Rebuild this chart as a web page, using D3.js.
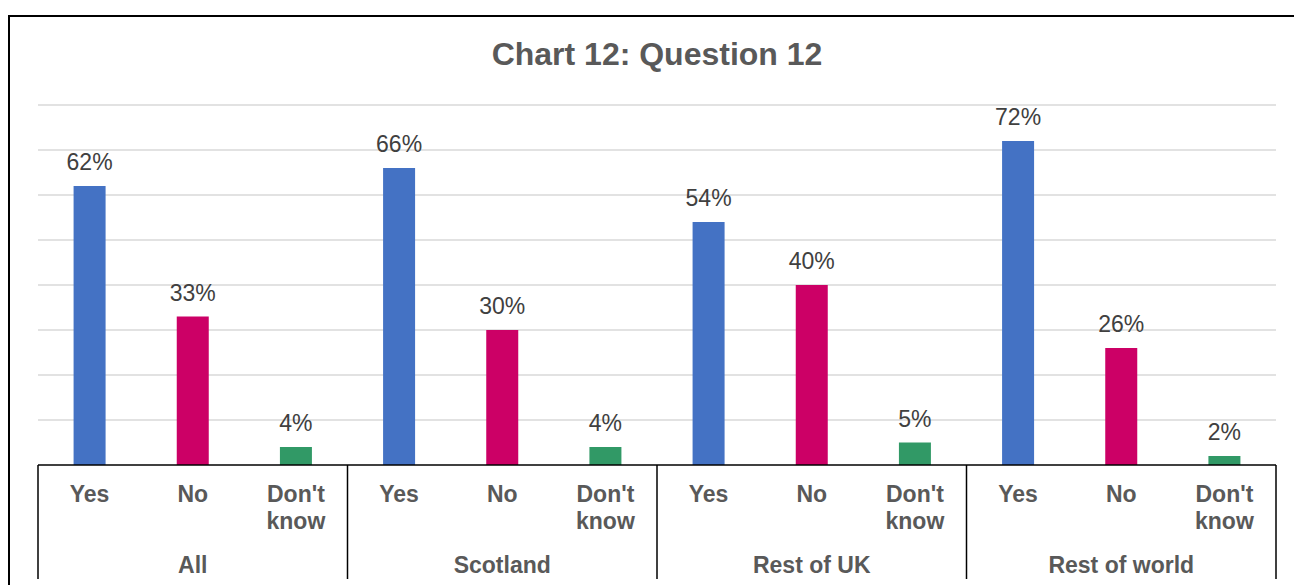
<!DOCTYPE html>
<html>
<head>
<meta charset="utf-8">
<script src="https://cdn.jsdelivr.net/npm/d3@7"></script>
<style>
html,body{margin:0;padding:0;background:#fff;}
svg{display:block;font-family:"Liberation Sans",Arial,sans-serif;}
</style>
</head>
<body>
<svg id="chart" width="1294" height="585"></svg>
<script>
const title = "Chart 12: Question 12";
const groups = ["All", "Scotland", "Rest of UK", "Rest of world"];
const answers = ["Yes", "No", "Don't know"];
const yesValues = [62, 66, 54, 72];
const noValues = [33, 30, 40, 26];
const dontKnowValues = [4, 4, 5, 2];
const yTicks = [0, 10, 20, 30, 40, 50, 60, 70, 80];
const colors = ["#4472C4", "#CC0066", "#319966"];

(function () {
const seriesValues = [yesValues, noValues, dontKnowValues];
const data = [];
groups.forEach((g, gi) => answers.forEach((a, ai) => {
  data.push({group: g, answer: a, value: seriesValues[ai][gi], ai});
}));

const svg = d3.select("#chart");
const plotL = 38, plotR = 1276, plotT = 105, plotB = 465;

// outer frame (cut off on right and bottom)
svg.append("path").attr("d", "M9,600 L9,16 L1300,16")
  .attr("fill", "none").attr("stroke", "#000").attr("stroke-width", 2);

const y = d3.scaleLinear().domain([0, 80]).range([plotB, plotT]);
const xg = d3.scaleBand().domain(groups).range([plotL, plotR]).padding(0);
const xa = d3.scaleBand().domain(answers).range([0, xg.bandwidth()]).padding(0);

// gridlines
svg.append("g").selectAll("line").data(yTicks.filter(t => t > 0)).join("line")
  .attr("x1", plotL).attr("x2", plotR)
  .attr("y1", d => y(d)).attr("y2", d => y(d))
  .attr("stroke", "#d9d9d9").attr("stroke-width", 1.5);

// title
svg.append("text").attr("x", (plotL + plotR) / 2).attr("y", 65)
  .attr("text-anchor", "middle").attr("font-size", 32).attr("font-weight", "bold")
  .attr("fill", "#595959").text(title);

const barW = 32;
const cx = d => xg(d.group) + xa(d.answer) + xa.bandwidth() / 2;

svg.append("g").selectAll("rect").data(data).join("rect")
  .attr("x", d => cx(d) - barW / 2).attr("width", barW)
  .attr("y", d => y(d.value)).attr("height", d => y(0) - y(d.value))
  .attr("fill", d => colors[d.ai]);

svg.append("g").selectAll("text").data(data).join("text")
  .attr("x", d => cx(d)).attr("y", d => y(d.value) - 16)
  .attr("text-anchor", "middle").attr("font-size", 23).attr("fill", "#404040")
  .text(d => d.value + "%");

// axis line
svg.append("line").attr("x1", plotL).attr("x2", plotR)
  .attr("y1", plotB).attr("y2", plotB)
  .attr("stroke", "#000").attr("stroke-width", 1.5);

// group separators
const seps = groups.map(g => xg(g)).concat([plotR]);
svg.append("g").selectAll("line").data(seps).join("line")
  .attr("x1", d => d).attr("x2", d => d)
  .attr("y1", plotB).attr("y2", 579)
  .attr("stroke", "#000").attr("stroke-width", 1.5);

// answer labels
const lbl = svg.append("g").selectAll("text").data(data).join("text")
  .attr("x", d => cx(d)).attr("y", 502)
  .attr("text-anchor", "middle").attr("font-size", 23).attr("font-weight", "bold")
  .attr("fill", "#595959");
lbl.each(function(d) {
  const words = d.answer.split(" ");
  const t = d3.select(this);
  words.forEach((w, i) => {
    t.append("tspan").attr("x", cx(d)).attr("dy", i === 0 ? 0 : 26.5).text(w);
  });
});

// group labels
svg.append("g").selectAll("text").data(groups).join("text")
  .attr("x", d => xg(d) + xg.bandwidth() / 2).attr("y", 573)
  .attr("text-anchor", "middle").attr("font-size", 23).attr("font-weight", "bold")
  .attr("fill", "#595959").text(d => d);
})();
</script>
</body>
</html>
